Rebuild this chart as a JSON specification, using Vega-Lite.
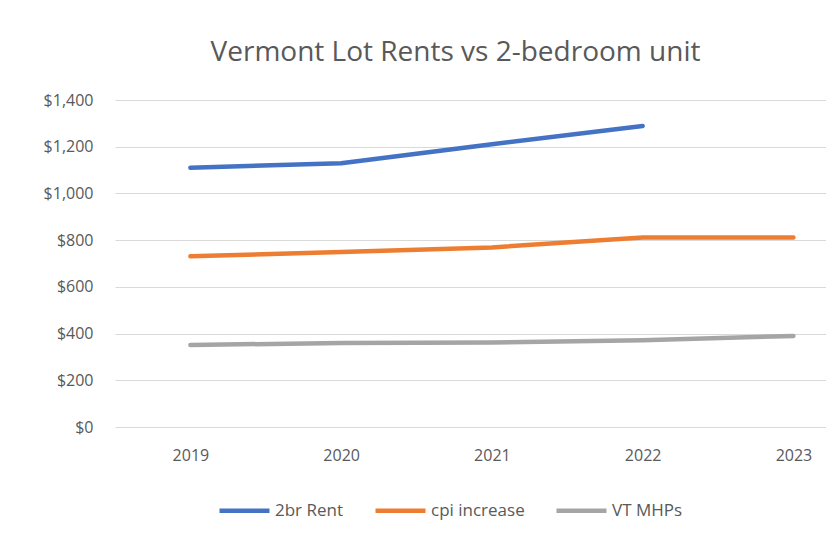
{
  "$schema": "https://vega.github.io/schema/vega-lite/v6.json",
  "width": 711,
  "height": 327,
  "autosize": {"type": "none"},
  "padding": {"left": 115, "top": 100, "right": 0, "bottom": 109},
  "background": "white",
  "title": {
    "text": "Vermont Lot Rents vs 2-bedroom unit",
    "fontSize": 28,
    "font": "Open Sans",
    "fontWeight": "normal",
    "color": "#595959",
    "offset": 25,
    "dx": -15,
    "anchor": "middle"
  },
  "data": {
    "values": [
      {"year": 2019, "series": "2br Rent", "value": 1110},
      {"year": 2020, "series": "2br Rent", "value": 1129},
      {"year": 2021, "series": "2br Rent", "value": 1211},
      {"year": 2022, "series": "2br Rent", "value": 1289},
      {"year": 2019, "series": "cpi increase", "value": 731},
      {"year": 2020, "series": "cpi increase", "value": 749},
      {"year": 2021, "series": "cpi increase", "value": 769},
      {"year": 2022, "series": "cpi increase", "value": 811},
      {"year": 2023, "series": "cpi increase", "value": 811},
      {"year": 2019, "series": "VT MHPs", "value": 351},
      {"year": 2020, "series": "VT MHPs", "value": 360},
      {"year": 2021, "series": "VT MHPs", "value": 362},
      {"year": 2022, "series": "VT MHPs", "value": 371},
      {"year": 2023, "series": "VT MHPs", "value": 390}
    ]
  },
  "mark": {"type": "line", "strokeWidth": 4.5, "strokeCap": "round", "strokeJoin": "round"},
  "encoding": {
    "x": {
      "field": "year",
      "type": "quantitative",
      "scale": {"domain": [2018.5, 2023.216], "nice": false, "zero": false},
      "axis": {
        "title": null,
        "values": [2019, 2020, 2021, 2022, 2023],
        "format": "d",
        "grid": false,
        "ticks": false,
        "domain": false,
        "labelFont": "Open Sans",
        "labelFontSize": 16,
        "labelColor": "#595959",
        "labelPadding": 20
      }
    },
    "y": {
      "field": "value",
      "type": "quantitative",
      "scale": {"domain": [0, 1400], "nice": false},
      "axis": {
        "title": null,
        "values": [0, 200, 400, 600, 800, 1000, 1200, 1400],
        "format": "$,.0f",
        "ticks": false,
        "domain": false,
        "gridColor": "#d9d9d9",
        "gridWidth": 1,
        "labelFont": "Open Sans",
        "labelFontSize": 16,
        "labelColor": "#595959",
        "labelPadding": 22
      }
    },
    "color": {
      "field": "series",
      "type": "nominal",
      "scale": {
        "domain": ["2br Rent", "cpi increase", "VT MHPs"],
        "range": ["#4472C4", "#ED7D31", "#A5A5A5"]
      },
      "legend": {
        "title": null,
        "orient": "none",
        "direction": "horizontal",
        "legendX": 102,
        "legendY": 383,
        "symbolType": "stroke",
        "symbolSize": 2500,
        "symbolStrokeWidth": 4.5,
        "labelFont": "Open Sans",
        "labelFontSize": 17,
        "labelColor": "#595959",
        "labelOffset": 3,
        "columnPadding": 22
      }
    }
  },
  "config": {"view": {"stroke": null}}
}
